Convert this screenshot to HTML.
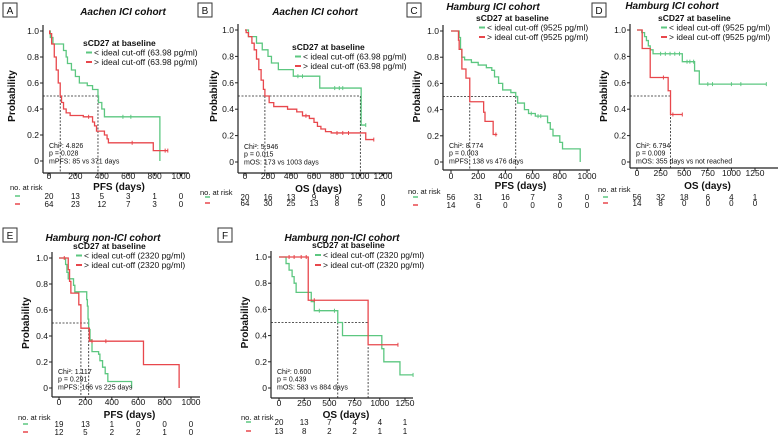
<!DOCTYPE html>
<html><head><meta charset="utf-8"><style>
html,body{margin:0;padding:0;background:#fff;width:778px;height:435px;overflow:hidden}
svg{display:block;font-family:"Liberation Sans",Arial,sans-serif}
</style></head><body>
<svg id="fig" width="778" height="435" viewBox="0 0 778 435"></svg>
<script>
// ---- data (times in days, survival probability) ----
const A_gT=[0,10,30,110,130,140,170,200,230,290,330,371,375,400,420,840];
const A_gS=[1,0.95,0.9,0.85,0.8,0.75,0.7,0.65,0.6,0.58,0.55,0.5,0.45,0.4,0.34,0];
const A_gC=[560,620];
const A_rT=[0,5,20,40,55,70,85,95,110,130,160,260,330,345,360,420,440,450,790];
const A_rS=[1,0.98,0.9,0.8,0.7,0.6,0.5,0.45,0.4,0.37,0.35,0.34,0.3,0.27,0.23,0.2,0.17,0.14,0.08];
const A_rC=[300,630,880,900];
const A_gEnd=840, A_rEnd=900;
const A_medians=[85,371];
const A_riskG=[20,13,5,3,1,0];
const A_riskR=[64,23,12,7,3,0];
const A_ticks=[0,200,400,600,800,1000];

const B_gT=[0,30,100,150,200,230,290,420,650,1010];
const B_gS=[1,0.95,0.9,0.85,0.8,0.75,0.7,0.65,0.56,0.28];
const B_gC=[460,500,780,820,850,1050];
const B_rT=[0,10,30,60,80,100,120,140,160,173,210,250,370,450,500,560,600,630,660,700,750,1050];
const B_rS=[1,0.98,0.95,0.9,0.85,0.78,0.7,0.62,0.55,0.5,0.45,0.42,0.4,0.38,0.35,0.33,0.3,0.27,0.25,0.23,0.22,0.17];
const B_rC=[530,800,850,900,1120];
const B_gEnd=1050, B_rEnd=1120;
const B_medians=[173,1003];
const B_riskG=[20,16,13,9,6,2,0];
const B_riskR=[64,30,25,13,8,5,0];
const B_ticks=[0,200,400,600,800,1000,1200];

const C_gT=[0,60,70,80,100,150,200,260,300,320,350,380,440,476,490,540,570,620,710,730,750,800,820,950];
const C_gS=[1,0.95,0.86,0.8,0.78,0.76,0.74,0.72,0.7,0.65,0.6,0.55,0.53,0.5,0.45,0.4,0.37,0.35,0.3,0.25,0.2,0.15,0.1,0];
const C_gC=[590,640,660];
const C_rT=[0,55,60,80,110,138,240,250,310];
const C_rS=[1,0.93,0.86,0.71,0.64,0.46,0.38,0.31,0.21];
const C_rC=[330];
const C_gEnd=950, C_rEnd=340;
const C_medians=[138,476];
const C_riskG=[56,31,16,7,3,0];
const C_riskR=[14,6,0,0,0,0];
const C_ticks=[0,200,400,600,800,1000];

const D_gT=[0,50,80,100,120,140,170,480,610,660];
const D_gS=[1,0.98,0.95,0.92,0.88,0.85,0.82,0.76,0.69,0.59];
const D_gC=[250,300,350,400,450,530,560,600,750,800,1000,1100,1370];
const D_rT=[0,55,140,330,355];
const D_rS=[1,0.86,0.64,0.54,0.36];
const D_rC=[280,380,480];
const D_gEnd=1370, D_rEnd=480;
const D_medians=[355];
const D_riskG=[56,32,18,6,4,1];
const D_riskR=[14,8,0,0,0,0];
const D_ticks=[0,250,500,750,1000,1250];

const E_gT=[0,50,60,70,110,120,210,215,220,225,235,250,300,310,330,350,370,550];
const E_gS=[1,0.95,0.89,0.84,0.79,0.74,0.68,0.63,0.53,0.45,0.37,0.28,0.26,0.21,0.16,0.11,0.05,0];
const E_gC=[];
const E_rT=[0,70,80,90,150,166,230,640,910];
const E_rS=[1,0.91,0.82,0.73,0.64,0.46,0.36,0.18,0];
const E_rC=[40,250,355];
const E_gEnd=550, E_rEnd=910;
const E_medians=[166,225];
const E_riskG=[19,13,1,0,0,0];
const E_riskR=[12,5,2,2,1,0];
const E_ticks=[0,200,400,600,800,1000];

const F_gT=[0,70,100,130,150,170,320,350,583,630,1020,1040,1200];
const F_gS=[1,0.95,0.9,0.85,0.8,0.73,0.66,0.59,0.5,0.4,0.3,0.2,0.1];
const F_gC=[400,550,1330];
const F_rT=[0,290,884];
const F_rS=[1,0.67,0.33];
const F_rC=[100,150,220,270,350,1180];
const F_gEnd=1330, F_rEnd=1180;
const F_medians=[583,884];
const F_riskG=[20,13,7,4,4,1];
const F_riskR=[13,8,2,2,1,1];
const F_ticks=[0,250,500,750,1000,1250];

const yTicks=[0,0.2,0.4,0.6,0.8,1.0];
const yTickLabels=["0","0.2","0.4","0.6","0.8","1.0"];

const svg=document.getElementById('fig');
const NS='http://www.w3.org/2000/svg';
const GREEN='#5cc780', RED='#e8474c';
function mk(tag,at,parent){const e=document.createElementNS(NS,tag);for(const k in at)e.setAttribute(k,at[k]);(parent||svg).appendChild(e);return e;}
function txt(x,y,s,at,parent){const e=mk('text',Object.assign({x:x,y:y,'font-size':8,fill:'#111'},at||{}),parent);e.textContent=s;return e;}

function panel(P){
  const g=mk('g',{});
  
  
  const X=t=>P.t0+t*P.sc, Y=s=>P.y0-(P.y0-P.y1)*s;
  // label box
  const bx=mk('rect',{x:P.bx,y:P.by,width:14,height:14,fill:'#fff',stroke:'#333','stroke-width':1},g);
  
  const bl=txt(P.bx+7,P.by+11,P.id,{'text-anchor':'middle','font-size':10},g);
  
  const ti=txt(P.tx,P.ty+4,P.title,{'text-anchor':'middle','font-size':10,'font-weight':'bold','font-style':'italic'},g);
  
  // axes
  const ya=mk('line',{x1:P.ax,y1:P.y1-6,x2:P.ax,y2:P.xa,stroke:'#222','stroke-width':1.2},g);
  
  const xa=mk('line',{x1:P.ax,y1:P.xa,x2:P.xe,y2:P.xa,stroke:'#222','stroke-width':1.2},g);
  
  yTicks.forEach((v,i)=>{
    mk('line',{x1:P.ax-3,y1:Y(v),x2:P.ax,y2:Y(v),stroke:'#222'},g);
    const t=txt(P.ax-4,Y(v)+3,yTickLabels[i],{'text-anchor':'end','font-size':8.5},g);
    
  });
  P.ticks.forEach(v=>{
    mk('line',{x1:X(v),y1:P.xa,x2:X(v),y2:P.xa+3,stroke:'#222'},g);
    const t=txt(X(v),P.tickY+3,String(v),{'text-anchor':'middle','font-size':8.5},g);
    
  });
  const yl=txt(0,0,'Probability',{'text-anchor':'middle','font-size':10,'font-weight':'bold',transform:`translate(${P.ylx},${(P.y0+P.y1)/2}) rotate(-90)`},g);
  
  const xl=txt((P.t0+P.xe)/2,P.xtY+4,P.xtitle,{'text-anchor':'middle','font-size':10,'font-weight':'bold'},g);
  
  // median dashed lines
  const mx=Math.max(...P.med);
  const hl=mk('line',{x1:P.ax,y1:Y(0.5),x2:X(mx),y2:Y(0.5),stroke:'#222','stroke-dasharray':'2,1.5','stroke-width':0.8},g);
  
  P.med.forEach(m=>{
    const vl=mk('line',{x1:X(m),y1:Y(0.5),x2:X(m),y2:P.xa,stroke:'#222','stroke-dasharray':'2,1.5','stroke-width':0.8},g);
    
  });
  // curves
  function curve(T,S,C,end,col,name){
    let d=`M${X(T[0])},${Y(S[0])}`;
    for(let i=1;i<T.length;i++){d+=`H${X(T[i])}V${Y(S[i])}`;}
    d+=`H${X(end)}`;
    const p=mk('path',{d:d,fill:'none',stroke:col,'stroke-width':1.3},g);
    
    C.forEach(c=>{let s=S[0];for(let i=0;i<T.length;i++)if(T[i]<=c)s=S[i];
      const m=mk('line',{x1:X(c),y1:Y(s)-2,x2:X(c),y2:Y(s)+2,stroke:col,'stroke-width':1},g);
      });
  }
  curve(P.gT,P.gS,P.gC,P.gE,GREEN,'curve-below-cutoff');
  curve(P.rT,P.rS,P.rC,P.rE,RED,'curve-above-cutoff');
  // stats
  P.stats.forEach((s,i)=>{const t=txt(P.ax+6,P.sy+i*7.7,s,{'font-size':7},g);
    });
  // legend
  const lg=mk('g',{},g);
  txt(P.lx,P.ly+3,'sCD27 at baseline',{'font-size':8.5,'font-weight':'bold'},lg);
  [[GREEN,'< ideal cut-off ('+P.cut+')'],[RED,'> ideal cut-off ('+P.cut+')']].forEach((e,i)=>{
    const yy=P.ly+P.ld*(i+1);
    const en=mk('g',{},lg);
    mk('line',{x1:P.lx+3,y1:yy,x2:P.lx+9,y2:yy,stroke:e[0],'stroke-width':2},en);
    txt(P.lx+11,yy+3,e[1],{'font-size':8.5},en);
  });
  // risk table
  const rt=mk('g',{},g);
  txt(P.rx,P.rh+3,'no. at risk',{'font-size':7.5},rt);
  mk('line',{x1:P.rx+5,y1:P.r1,x2:P.rx+10,y2:P.r1,stroke:GREEN,'stroke-width':1.5},rt);
  mk('line',{x1:P.rx+5,y1:P.r2,x2:P.rx+10,y2:P.r2,stroke:RED,'stroke-width':1.5},rt);
  P.ticks.forEach((v,i)=>{
    txt(X(v),P.r1+3,String(P.riskG[i]),{'text-anchor':'middle','font-size':8},rt);
    txt(X(v),P.r2+3,String(P.riskR[i]),{'text-anchor':'middle','font-size':8},rt);
  });
}

panel({id:'A',title:'Aachen ICI cohort',tx:123,ty:11,bx:3,by:3,ax:43,t0:49,sc:0.132,y1:31,y0:161,xa:173,xe:189,ticks:A_ticks,tickY:176,xtY:186,xtitle:'PFS (days)',ylx:15,
 gT:A_gT,gS:A_gS,gC:A_gC,gE:A_gEnd,rT:A_rT,rS:A_rS,rC:A_rC,rE:A_rEnd,med:A_medians,
 stats:['Chi²: 4.826','p = 0.028','mPFS: 85 vs 371 days'],sy:148,lx:83,ly:43,ld:9.5,cut:'63.98 pg/ml',
 rx:10,rh:187,r1:196,r2:204,riskG:A_riskG,riskR:A_riskR});
panel({id:'B',title:'Aachen ICI cohort',tx:315,ty:11,bx:198,by:3,ax:238,t0:245,sc:0.115,y1:30,y0:162,xa:173,xe:392,ticks:B_ticks,tickY:176,xtY:188,xtitle:'OS (days)',ylx:217,
 gT:B_gT,gS:B_gS,gC:B_gC,gE:B_gEnd,rT:B_rT,rS:B_rS,rC:B_rC,rE:B_rEnd,med:B_medians,
 stats:['Chi²: 5.946','p = 0.015','mOS: 173 vs 1003 days'],sy:149,lx:292,ly:47,ld:9.5,cut:'63.98 pg/ml',
 rx:200,rh:192,r1:197,r2:203,riskG:B_riskG,riskR:B_riskR});
panel({id:'C',title:'Hamburg ICI cohort',tx:493,ty:6,bx:407,by:3,ax:443,t0:451,sc:0.136,y1:31,y0:162,xa:170,xe:590,ticks:C_ticks,tickY:176,xtY:185,xtitle:'PFS (days)',ylx:420,
 gT:C_gT,gS:C_gS,gC:C_gC,gE:C_gEnd,rT:C_rT,rS:C_rS,rC:C_rC,rE:C_rEnd,med:C_medians,
 stats:['Chi²: 8.774','p = 0.003','mPFS: 138 vs 476 days'],sy:148,lx:476,ly:18,ld:9.5,cut:'9525 pg/ml',
 rx:408,rh:191,r1:197,r2:205,riskG:C_riskG,riskR:C_riskR});
panel({id:'D',title:'Hamburg ICI cohort',tx:672,ty:5,bx:592,by:3,ax:630,t0:637,sc:0.0944,y1:30,y0:162,xa:168,xe:778,ticks:D_ticks,tickY:173,xtY:185,xtitle:'OS (days)',ylx:607,
 gT:D_gT,gS:D_gS,gC:D_gC,gE:D_gEnd,rT:D_rT,rS:D_rS,rC:D_rC,rE:D_rEnd,med:D_medians,
 stats:['Chi²: 6.794','p = 0.009','mOS: 355 days vs not reached'],sy:148,lx:658,ly:18,ld:9.5,cut:'9525 pg/ml',
 rx:598,rh:189,r1:197,r2:203,riskG:D_riskG,riskR:D_riskR});
panel({id:'E',title:'Hamburg non-ICI cohort',tx:103,ty:237,bx:3,by:228,ax:52,t0:59,sc:0.132,y1:258,y0:388,xa:397,xe:200,ticks:E_ticks,tickY:402,xtY:414,xtitle:'PFS (days)',ylx:29,
 gT:E_gT,gS:E_gS,gC:E_gC,gE:E_gEnd,rT:E_rT,rS:E_rS,rC:E_rC,rE:E_rEnd,med:E_medians,
 stats:['Chi²: 1.117','p = 0.291','mPFS: 166 vs 225 days'],sy:374,lx:73,ly:246,ld:9.5,cut:'2320 pg/ml',
 rx:18,rh:417,r1:424,r2:432,riskG:E_riskG,riskR:E_riskR});
panel({id:'F',title:'Hamburg non-ICI cohort',tx:342,ty:237,bx:218,by:228,ax:271,t0:279,sc:0.1008,y1:257,y0:388,xa:398,xe:413,ticks:F_ticks,tickY:403,xtY:414,xtitle:'OS (days)',ylx:248,
 gT:F_gT,gS:F_gS,gC:F_gC,gE:F_gEnd,rT:F_rT,rS:F_rS,rC:F_rC,rE:F_rEnd,med:F_medians,
 stats:['Chi²: 0.600','p = 0.439','mOS: 583 vs 884 days'],sy:374,lx:312,ly:245,ld:10,cut:'2320 pg/ml',
 rx:241,rh:417,r1:422,r2:431,riskG:F_riskG,riskR:F_riskR});
</script>
</body></html>
